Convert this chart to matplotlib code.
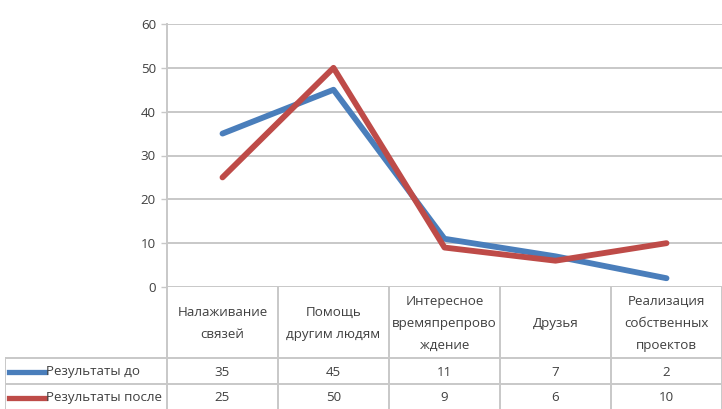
import matplotlib
matplotlib.use("Agg")
import matplotlib.pyplot as plt

plt.rcParams['font.family'] = ['Liberation Sans Narrow', 'Open Sans', 'DejaVu Sans']

categories = [
    "Налаживание\nсвязей",
    "Помощь\nдругим людям",
    "Интересное\nвремяпрепрово\nждение",
    "Друзья",
    "Реализация\nсобственных\nпроектов",
]
series_names = ["Результаты до", "Результаты после"]
before = [35, 45, 11, 7, 2]
after = [25, 50, 9, 6, 10]
y_ticks = [0, 10, 20, 30, 40, 50, 60]

colors = ["#4A7EBB", "#BE4B48"]
grid_c = "#C8C8C8"
text_c = "#404040"
fs = 9.6

W, H = 722, 409
fig = plt.figure(figsize=(W / 100, H / 100), dpi=100)

# pixel layout
x0, x1 = 167, 722
y_top, y_zero = 24, 287
col_w = (x1 - x0) / len(categories)
tab_left = 5
row_lines = [358, 384]

ax = fig.add_axes([x0 / W, 1 - y_zero / H, (x1 - x0) / W, (y_zero - y_top) / H])
xs = [i + 0.5 for i in range(len(categories))]
for vals, c in zip([before, after], colors):
    ax.plot(xs, vals, color=c, lw=4.2, solid_capstyle='round', zorder=3)
ax.set_xlim(0, len(categories))
ax.set_ylim(0, 60)
ax.set_yticks(y_ticks)
ax.set_yticklabels([str(t) for t in y_ticks], fontsize=fs, color=text_c)
ax.set_xticks([])
for t in y_ticks:
    ax.axhline(t, color=grid_c, lw=1.4, zorder=1)
for s in ['top', 'right', 'bottom']:
    ax.spines[s].set_visible(False)
ax.spines['left'].set_color(grid_c)
ax.spines['left'].set_linewidth(1.4)
ax.tick_params(axis='y', length=4, width=1, color=grid_c, pad=4)

# data table below the plot
tx0 = (tab_left - x0) / col_w
tab = fig.add_axes([tab_left / W, 0, (x1 - tab_left) / W, 1 - y_zero / H])
tab.set_xlim(tx0, len(categories))
tab.set_ylim(H, y_zero)
tab.axis('off')

# vertical column separators
for i in range(len(categories) + 1):
    tab.plot([i, i], [y_zero, H], color=grid_c, lw=1.4, clip_on=False)
tab.plot([tx0, tx0], [row_lines[0], H], color=grid_c, lw=1.4)
for y in row_lines:
    tab.plot([tx0, len(categories)], [y, y], color=grid_c, lw=1.4)

# header row
for i, cat in enumerate(categories):
    tab.text(i + 0.5, (y_zero + row_lines[0]) / 2 + 1, cat, ha='center', va='center',
             fontsize=fs, color=text_c, linespacing=1.9)

# series rows
row_centers = [(row_lines[0] + row_lines[1]) / 2 + 1, (row_lines[1] + H) / 2 + 1]
leg_len = 36 / col_w
for name, vals, c, yc in zip(series_names, [before, after], colors, row_centers):
    tab.plot([tx0 + 4 / col_w, tx0 + 4 / col_w + leg_len], [yc, yc], color=c, lw=3.8)
    tab.text(tx0 + 41 / col_w, yc, name, ha='left', va='center', fontsize=fs, color=text_c)
    for i, v in enumerate(vals):
        tab.text(i + 0.5, yc, str(v), ha='center', va='center', fontsize=fs, color=text_c)

fig.savefig("out.png", dpi=100)
